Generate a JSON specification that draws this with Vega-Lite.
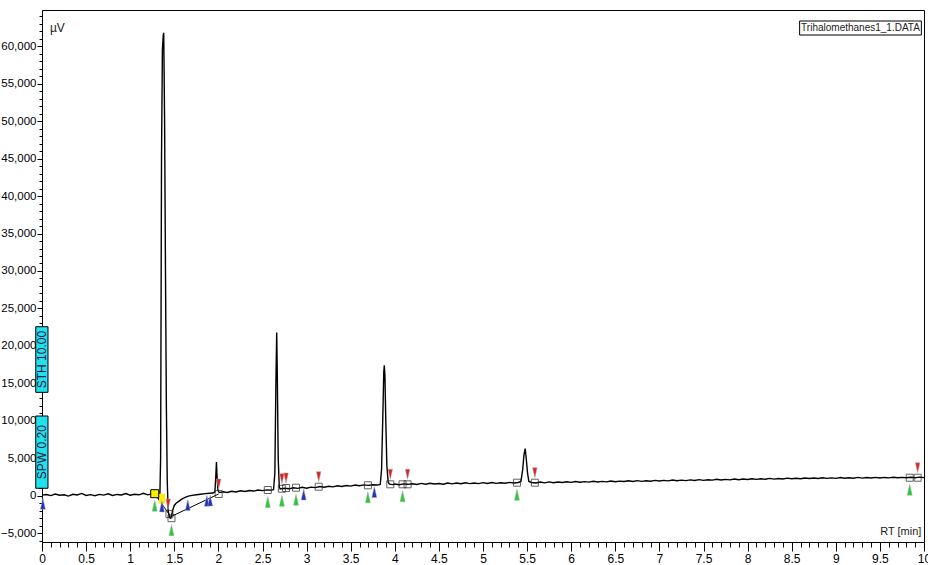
{
"$schema": "https://vega.github.io/schema/vega-lite/v6.json",
"width": 882, "height": 532,
"autosize": {"type": "none"},
"padding": {"left": 42, "top": 10, "right": 4, "bottom": 23},
"config": {
 "view": {"stroke": "black", "strokeWidth": 1},
 "axis": {"grid": false, "domainColor": "black", "tickColor": "black", "labelColor": "black", "labelFont": "Liberation Sans", "labelFontSize": 11.5, "title": null}
},
"datasets": {
 "trace": [
  {"x":0.00,"y":80},{"x":0.05,"y":160},{"x":0.10,"y":20},{"x":0.15,"y":220},{"x":0.20,"y":60},{"x":0.25,"y":130},{"x":0.30,"y":-50},{"x":0.35,"y":190},{"x":0.40,"y":90},{"x":0.45,"y":300},{"x":0.50,"y":30},{"x":0.55,"y":140},{"x":0.60,"y":0},{"x":0.65,"y":180},{"x":0.70,"y":80},{"x":0.75,"y":250},{"x":0.80,"y":40},{"x":0.85,"y":170},{"x":0.90,"y":100},{"x":0.95,"y":280},{"x":1.00,"y":60},{"x":1.05,"y":200},{"x":1.10,"y":120},{"x":1.15,"y":330},{"x":1.20,"y":110},{"x":1.25,"y":260},{"x":1.28,"y":250},{"x":1.30,"y":60},{"x":1.32,"y":-300},{"x":1.335,"y":-700},{"x":1.345,"y":5000},{"x":1.355,"y":45000},{"x":1.365,"y":59500},{"x":1.375,"y":61500},{"x":1.38,"y":61800},{"x":1.39,"y":50000},{"x":1.40,"y":30000},{"x":1.41,"y":12000},{"x":1.42,"y":2000},{"x":1.43,"y":-2000},{"x":1.445,"y":-2900},{"x":1.46,"y":-3000},{"x":1.47,"y":-2600},{"x":1.48,"y":-2000},{"x":1.50,"y":-1300},{"x":1.52,"y":-1000},{"x":1.55,"y":-750},{"x":1.58,"y":-500},{"x":1.60,"y":-350},{"x":1.63,"y":-200},{"x":1.66,"y":-50},{"x":1.70,"y":50},{"x":1.75,"y":130},{"x":1.80,"y":200},{"x":1.85,"y":280},{"x":1.90,"y":320},{"x":1.94,"y":360},{"x":1.96,"y":500},{"x":1.97,"y":2500},{"x":1.978,"y":4500},{"x":1.985,"y":2500},{"x":1.995,"y":700},{"x":2.01,"y":420},
  {"x":2.05,"y":520},{"x":2.10,"y":430},{"x":2.15,"y":600},{"x":2.20,"y":490},{"x":2.25,"y":650},{"x":2.30,"y":560},{"x":2.35,"y":700},{"x":2.40,"y":620},{"x":2.45,"y":760},{"x":2.50,"y":680},{"x":2.55,"y":780},{"x":2.60,"y":740},{"x":2.625,"y":800},{"x":2.64,"y":3000},{"x":2.652,"y":15000},{"x":2.661,"y":21800},{"x":2.668,"y":16000},{"x":2.678,"y":5000},{"x":2.69,"y":1200},{"x":2.70,"y":900},{"x":2.75,"y":1000},{"x":2.80,"y":920},{"x":2.85,"y":1060},{"x":2.90,"y":980},{"x":2.95,"y":1120},{"x":3.00,"y":1000},{"x":3.05,"y":1150},{"x":3.10,"y":1080},{"x":3.15,"y":1220},{"x":3.20,"y":1130},{"x":3.25,"y":1260},{"x":3.30,"y":1180},{"x":3.35,"y":1330},{"x":3.40,"y":1240},{"x":3.45,"y":1360},{"x":3.50,"y":1280},{"x":3.55,"y":1420},{"x":3.60,"y":1330},{"x":3.65,"y":1440},{"x":3.70,"y":1380},{"x":3.75,"y":1470},{"x":3.80,"y":1420},{"x":3.835,"y":1500},{"x":3.85,"y":3500},{"x":3.865,"y":11000},{"x":3.875,"y":16500},{"x":3.881,"y":17400},{"x":3.888,"y":16000},{"x":3.898,"y":10000},{"x":3.91,"y":4000},{"x":3.925,"y":1800},{"x":3.94,"y":1550},{"x":3.98,"y":1480},{"x":4.00,"y":1560},{"x":4.05,"y":1470},{"x":4.10,"y":1580},{"x":4.15,"y":1520},
  {"x":4.20,"y":1600},{"x":4.25,"y":1500},{"x":4.30,"y":1640},{"x":4.35,"y":1540},{"x":4.40,"y":1660},{"x":4.45,"y":1560},{"x":4.50,"y":1620},{"x":4.55,"y":1540},{"x":4.60,"y":1690},{"x":4.65,"y":1580},{"x":4.70,"y":1700},{"x":4.75,"y":1600},{"x":4.80,"y":1720},{"x":4.85,"y":1610},{"x":4.90,"y":1690},{"x":4.95,"y":1620},{"x":5.00,"y":1740},{"x":5.05,"y":1640},{"x":5.10,"y":1760},{"x":5.15,"y":1650},{"x":5.20,"y":1720},{"x":5.25,"y":1660},{"x":5.30,"y":1780},{"x":5.35,"y":1690},{"x":5.40,"y":1760},{"x":5.43,"y":1900},{"x":5.45,"y":3500},{"x":5.465,"y":5500},{"x":5.478,"y":6300},{"x":5.49,"y":5000},{"x":5.505,"y":3000},{"x":5.52,"y":1900},{"x":5.55,"y":1760},{"x":5.60,"y":1700},{"x":5.65,"y":1820},{"x":5.70,"y":1720},{"x":5.75,"y":1850},{"x":5.80,"y":1740},{"x":5.85,"y":1830},{"x":5.90,"y":1760},{"x":5.95,"y":1870},
  {"x":6.00,"y":1780},{"x":6.05,"y":1900},{"x":6.10,"y":1800},{"x":6.15,"y":1880},{"x":6.20,"y":1810},{"x":6.25,"y":1930},{"x":6.30,"y":1830},{"x":6.35,"y":1910},{"x":6.40,"y":1850},{"x":6.45,"y":1960},{"x":6.50,"y":1870},{"x":6.55,"y":1950},{"x":6.60,"y":1890},{"x":6.65,"y":2000},{"x":6.70,"y":1900},{"x":6.75,"y":2010},{"x":6.80,"y":1920},{"x":6.85,"y":1990},{"x":6.90,"y":1940},{"x":6.95,"y":2050},{"x":7.00,"y":1960},{"x":7.05,"y":2040},{"x":7.10,"y":1980},{"x":7.15,"y":2090},{"x":7.20,"y":2000},{"x":7.25,"y":2080},{"x":7.30,"y":2010},{"x":7.35,"y":2110},{"x":7.40,"y":2030},{"x":7.45,"y":2140},{"x":7.50,"y":2050},{"x":7.55,"y":2130},{"x":7.60,"y":2080},{"x":7.65,"y":2190},{"x":7.70,"y":2100},{"x":7.75,"y":2180},{"x":7.80,"y":2120},{"x":7.85,"y":2230},{"x":7.90,"y":2140},{"x":7.95,"y":2220},
  {"x":8.00,"y":2160},{"x":8.05,"y":2270},{"x":8.10,"y":2180},{"x":8.15,"y":2260},{"x":8.20,"y":2200},{"x":8.25,"y":2310},{"x":8.30,"y":2220},{"x":8.35,"y":2290},{"x":8.40,"y":2240},{"x":8.45,"y":2340},{"x":8.50,"y":2260},{"x":8.55,"y":2330},{"x":8.60,"y":2270},{"x":8.65,"y":2370},{"x":8.70,"y":2290},{"x":8.75,"y":2360},{"x":8.80,"y":2300},{"x":8.85,"y":2400},{"x":8.90,"y":2310},{"x":8.95,"y":2380},{"x":9.00,"y":2320},{"x":9.05,"y":2420},{"x":9.10,"y":2330},{"x":9.15,"y":2400},{"x":9.20,"y":2340},{"x":9.25,"y":2440},{"x":9.30,"y":2350},{"x":9.35,"y":2420},{"x":9.40,"y":2360},{"x":9.45,"y":2450},{"x":9.50,"y":2370},{"x":9.55,"y":2440},{"x":9.60,"y":2380},{"x":9.65,"y":2470},{"x":9.70,"y":2390},{"x":9.75,"y":2450},{"x":9.80,"y":2400},{"x":9.85,"y":2470},{"x":9.90,"y":2400},{"x":9.95,"y":2480},{"x":10.00,"y":2420}
 ],
 "marks": [
  {"x":1.278,"y":270,"t":"ysq"},
  {"x":1.36,"y":-400,"t":"yfill"},
  {"x":1.445,"y":-2450,"t":"sq"},{"x":1.468,"y":-3000,"t":"sq"},
  {"x":2.003,"y":230,"t":"sq"},{"x":2.56,"y":760,"t":"sq"},{"x":2.72,"y":930,"t":"sq"},{"x":2.767,"y":1030,"t":"sq"},{"x":2.88,"y":1070,"t":"sq"},{"x":3.137,"y":1200,"t":"sq"},{"x":3.695,"y":1390,"t":"sq"},{"x":3.949,"y":1520,"t":"sq"},{"x":4.088,"y":1520,"t":"sq"},{"x":4.145,"y":1520,"t":"sq"},{"x":5.385,"y":1735,"t":"sq"},{"x":5.588,"y":1735,"t":"sq"},{"x":9.838,"y":2400,"t":"sq"},{"x":9.928,"y":2400,"t":"sq"},
  {"x":1.278,"y":270,"t":"g"},{"x":1.468,"y":-3000,"t":"g"},{"x":2.56,"y":760,"t":"g"},{"x":2.72,"y":930,"t":"g"},{"x":2.88,"y":1070,"t":"g"},{"x":3.695,"y":1390,"t":"g"},{"x":4.088,"y":1520,"t":"g"},{"x":5.385,"y":1735,"t":"g"},{"x":9.838,"y":2400,"t":"g"},
  {"x":1.43,"y":-2450,"t":"r"},{"x":2.003,"y":230,"t":"r"},{"x":2.72,"y":930,"t":"r"},{"x":2.767,"y":1030,"t":"r"},{"x":3.137,"y":1200,"t":"r"},{"x":3.949,"y":1520,"t":"r"},{"x":4.145,"y":1520,"t":"r"},{"x":5.588,"y":1735,"t":"r"},{"x":9.928,"y":2400,"t":"r"},
  {"x":0.01,"y":-150,"t":"b"},{"x":1.36,"y":-500,"t":"b"},{"x":1.653,"y":-300,"t":"b"},{"x":1.869,"y":250,"t":"b"},{"x":1.907,"y":300,"t":"b"},{"x":2.967,"y":1100,"t":"b"},{"x":3.768,"y":1420,"t":"b"}
 ],
 "bl": [
  {"x":1.278,"y":270,"s":1},{"x":1.46,"y":-2800,"s":1},
  {"x":1.46,"y":-2800,"s":2},{"x":2.003,"y":230,"s":2}
 ],
 "boxes": [
  {"x":-0.071,"x2":0.068,"y":13800,"y2":22560,"xm":0,"ym":18180,"label":"STH 10.00"},
  {"x":-0.071,"x2":0.068,"y":990,"y2":10640,"xm":0,"ym":5815,"label":"SPW 0.20"}
 ],
 "tbox": [{"x":8.59,"x2":9.97,"y":61500,"y2":63370,"xm":9.28,"ym":62435,"label":"Trihalomethanes1_1.DATA"}],
 "uv": [{"x":0.09,"y":62440,"label":"µV"}],
 "rt": [{"x":9.97,"y":-4860,"label":"RT [min]"}]
},
"resolve": {"axis": {"x": "independent", "y": "independent"}},
"layer": [
 {
  "data": {"name": "trace"},
  "mark": {"type": "line", "color": "black", "strokeWidth": 1.4},
  "encoding": {
   "x": {"field": "x", "type": "quantitative", "scale": {"domain": [0, 10], "nice": false, "zero": false},
         "axis": {"orient": "bottom", "values": [0,0.5,1,1.5,2,2.5,3,3.5,4,4.5,5,5.5,6,6.5,7,7.5,8,8.5,9,9.5,10], "labelExpr": "format(datum.value, '~g')", "labelFontSize": 12, "tickSize": 9, "labelPadding": 2, "labelFlush": false, "labelOverlap": false}},
   "y": {"field": "y", "type": "quantitative", "scale": {"domain": [-6180, 64840], "nice": false, "zero": false},
         "axis": {"orient": "left", "values": [-5000,0,5000,10000,15000,20000,25000,30000,35000,40000,45000,50000,55000,60000], "labelExpr": "format(datum.value, ',')", "tickSize": 5, "labelPadding": 1, "labelOverlap": false}}
  }
 },
 {
  "data": {"name": "bl"},
  "mark": {"type": "line", "color": "black", "strokeWidth": 1},
  "encoding": {
   "x": {"field": "x", "type": "quantitative", "scale": {"domain": [0, 10], "nice": false, "zero": false},
         "axis": {"orient": "bottom", "values": [0.1,0.2,0.3,0.4,0.6,0.7,0.8,0.9,1.1,1.2,1.3,1.4,1.6,1.7,1.8,1.9,2.1,2.2,2.3,2.4,2.6,2.7,2.8,2.9,3.1,3.2,3.3,3.4,3.6,3.7,3.8,3.9,4.1,4.2,4.3,4.4,4.6,4.7,4.8,4.9,5.1,5.2,5.3,5.4,5.6,5.7,5.8,5.9,6.1,6.2,6.3,6.4,6.6,6.7,6.8,6.9,7.1,7.2,7.3,7.4,7.6,7.7,7.8,7.9,8.1,8.2,8.3,8.4,8.6,8.7,8.8,8.9,9.1,9.2,9.3,9.4,9.6,9.7,9.8,9.9], "tickSize": 5, "labels": false, "domain": false}},
   "y": {"field": "y", "type": "quantitative", "scale": {"domain": [-6180, 64840], "nice": false, "zero": false},
         "axis": {"orient": "left", "values": [-6000,-4000,-3000,-2000,-1000,1000,2000,3000,4000,6000,7000,8000,9000,11000,12000,13000,14000,16000,17000,18000,19000,21000,22000,23000,24000,26000,27000,28000,29000,31000,32000,33000,34000,36000,37000,38000,39000,41000,42000,43000,44000,46000,47000,48000,49000,51000,52000,53000,54000,56000,57000,58000,59000,61000,62000,63000,64000], "tickSize": 3, "labels": false, "domain": false}},
   "detail": {"field": "s", "type": "nominal"}
  }
 },
 {
  "data": {"name": "marks"},
  "transform": [{"filter": "datum.t == 'sq'"}],
  "mark": {"type": "point", "shape": "square", "size": 49, "filled": false, "stroke": "#222", "strokeWidth": 1},
  "encoding": {"x": {"field": "x", "type": "quantitative", "axis": null}, "y": {"field": "y", "type": "quantitative", "axis": null}}
 },
 {
  "data": {"name": "marks"},
  "transform": [{"filter": "datum.t == 'yfill'"}],
  "mark": {"type": "point", "shape": "M-0.6,-1L0.6,-1L0.6,1L-0.6,1Z", "size": 100, "filled": true, "fill": "#ffee00", "opacity": 1, "strokeWidth": 0},
  "encoding": {"x": {"field": "x", "type": "quantitative", "axis": null}, "y": {"field": "y", "type": "quantitative", "axis": null}}
 },
 {
  "data": {"name": "marks"},
  "transform": [{"filter": "datum.t == 'ysq'"}],
  "mark": {"type": "point", "shape": "square", "size": 64, "filled": true, "fill": "#ffee00", "stroke": "black", "strokeWidth": 1, "opacity": 1},
  "encoding": {"x": {"field": "x", "type": "quantitative", "axis": null}, "y": {"field": "y", "type": "quantitative", "axis": null}}
 },
 {
  "data": {"name": "marks"},
  "transform": [{"filter": "datum.t == 'g'"}],
  "mark": {"type": "point", "shape": "M0,-1L0.45,1L-0.45,1Z", "size": 121, "filled": true, "fill": "#22cc33", "stroke": "#aaaaaa", "strokeWidth": 0.5, "opacity": 1, "yOffset": 12},
  "encoding": {"x": {"field": "x", "type": "quantitative", "axis": null}, "y": {"field": "y", "type": "quantitative", "axis": null}}
 },
 {
  "data": {"name": "marks"},
  "transform": [{"filter": "datum.t == 'r'"}],
  "mark": {"type": "point", "shape": "M-0.45,-1L0.45,-1L0,1Z", "size": 100, "filled": true, "fill": "#e02020", "stroke": "#aaaaaa", "strokeWidth": 0.5, "opacity": 1, "yOffset": -10},
  "encoding": {"x": {"field": "x", "type": "quantitative", "axis": null}, "y": {"field": "y", "type": "quantitative", "axis": null}}
 },
 {
  "data": {"name": "marks"},
  "transform": [{"filter": "datum.t == 'b'"}],
  "mark": {"type": "point", "shape": "M0,-1L0.45,1L-0.45,1Z", "size": 121, "filled": true, "fill": "#2030c0", "stroke": "#aaaaaa", "strokeWidth": 0.5, "opacity": 1, "yOffset": 7},
  "encoding": {"x": {"field": "x", "type": "quantitative", "axis": null}, "y": {"field": "y", "type": "quantitative", "axis": null}}
 },
 {
  "data": {"name": "boxes"},
  "mark": {"type": "rect", "fill": "#22e0ee", "stroke": "black", "strokeWidth": 1, "clip": false},
  "encoding": {"x": {"field": "x", "type": "quantitative", "axis": null}, "x2": {"field": "x2"}, "y": {"field": "y", "type": "quantitative", "axis": null}, "y2": {"field": "y2"}}
 },
 {
  "data": {"name": "boxes"},
  "mark": {"type": "text", "angle": 270, "font": "Liberation Sans", "fontSize": 12, "color": "#1a1a40", "align": "center", "baseline": "middle", "clip": false},
  "encoding": {"x": {"field": "xm", "type": "quantitative", "axis": null}, "y": {"field": "ym", "type": "quantitative", "axis": null}, "text": {"field": "label"}}
 },
 {
  "data": {"name": "tbox"},
  "mark": {"type": "rect", "fill": "white", "stroke": "black", "strokeWidth": 1},
  "encoding": {"x": {"field": "x", "type": "quantitative", "axis": null}, "x2": {"field": "x2"}, "y": {"field": "y", "type": "quantitative", "axis": null}, "y2": {"field": "y2"}}
 },
 {
  "data": {"name": "tbox"},
  "mark": {"type": "text", "font": "Liberation Sans", "fontSize": 10, "color": "#222", "align": "center", "baseline": "middle"},
  "encoding": {"x": {"field": "xm", "type": "quantitative", "axis": null}, "y": {"field": "ym", "type": "quantitative", "axis": null}, "text": {"field": "label"}}
 },
 {
  "data": {"name": "uv"},
  "mark": {"type": "text", "font": "Liberation Sans", "fontSize": 12, "color": "#222", "align": "left", "baseline": "middle"},
  "encoding": {"x": {"field": "x", "type": "quantitative", "axis": null}, "y": {"field": "y", "type": "quantitative", "axis": null}, "text": {"field": "label"}}
 },
 {
  "data": {"name": "rt"},
  "mark": {"type": "text", "font": "Liberation Sans", "fontSize": 11, "color": "#222", "align": "right", "baseline": "middle"},
  "encoding": {"x": {"field": "x", "type": "quantitative", "axis": null}, "y": {"field": "y", "type": "quantitative", "axis": null}, "text": {"field": "label"}}
 }
]
}
